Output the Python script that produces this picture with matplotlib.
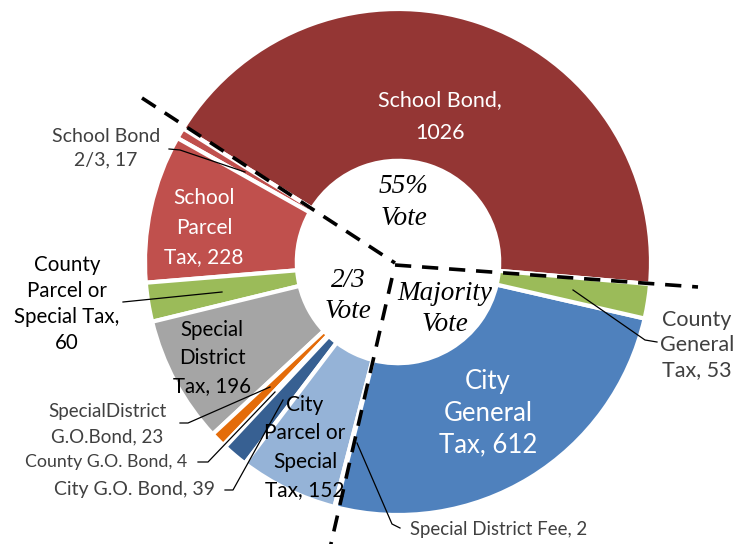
import matplotlib
matplotlib.use("Agg")
import matplotlib.pyplot as plt

# ---- data ----
categories = ["School Bond", "School Bond 2/3", "School Parcel Tax",
              "County Parcel or Special Tax", "Special District Tax",
              "SpecialDistrict G.O.Bond", "County G.O. Bond", "City G.O. Bond",
              "City Parcel or Special Tax", "Special District Fee",
              "City General Tax", "County General Tax"]
values = [1026, 17, 228, 60, 196, 23, 4, 39, 152, 2, 612, 53]
label_templates = ["School Bond,\n{v}", "School Bond\n2/3, {v}", "School\nParcel\nTax, {v}",
                   "County\nParcel or\nSpecial Tax,\n{v}", "Special\nDistrict\nTax, {v}",
                   "SpecialDistrict\nG.O.Bond, {v}", "County G.O. Bond, {v}", "City G.O. Bond, {v}",
                   "City\nParcel or\nSpecial\nTax, {v}", "Special District Fee, {v}",
                   "City\nGeneral\nTax, {v}", "County\nGeneral\nTax, {v}"]
colors = ["#943634", "#C0504D", "#C0504D", "#9BBB59", "#A5A5A5", "#E46C0A",
          "#E46C0A", "#376092", "#95B3D7", "#4F81BD", "#4F81BD", "#9BBB59"]
group_labels = ["55%\nVote", "2/3\nVote", "Majority\nVote"]

W, H = 747, 544
def Y(y):
    return H - y

fig = plt.figure(figsize=(W / 100, H / 100), dpi=100)
ax = fig.add_axes([0, 0, 1, 1])

cx, cy, R = 398, 262, 253
ax.pie(values, startangle=-5, counterclock=True, center=(cx, Y(cy)), radius=R,
       colors=colors,
       wedgeprops=dict(width=R * 0.6, edgecolor="white", linewidth=3))

ax.set_xlim(0, W)
ax.set_ylim(0, H)
ax.set_aspect("equal")
ax.axis("off")


def block(text, x, y, pitch, ha="center", **kw):
    lines = text.split("\n")
    n = len(lines)
    for k, line in enumerate(lines):
        ax.text(x, Y(y + (k - (n - 1) / 2) * pitch), line, ha=ha, va="center", **kw)


labels = [t.format(v=v) for t, v in zip(label_templates, values)]
SANS = "Lato"
GRAY = "#404040"
# (index, x, y, color, size, ha, line pitch in px)
placements = [
    (0, 440, 116.5, "white", 15.5, "center", 33),
    (1, 106, 148, GRAY, 14, "center", 24),
    (2, 204, 228, "white", 15, "center", 29.5),
    (3, 67, 304, "black", 14.8, "center", 26),
    (4, 212, 358, "black", 14.8, "center", 28.5),
    (5, 107, 424.5, GRAY, 13.5, "center", 25),
    (6, 187, 462, GRAY, 12.8, "right", 25),
    (7, 215, 490, GRAY, 14, "right", 25),
    (8, 305, 447.5, "black", 15, "center", 28.3),
    (9, 410, 530, GRAY, 13.4, "left", 25),
    (10, 488, 413.5, "white", 18.5, "center", 31.5),
    (11, 697, 345, GRAY, 15.5, "center", 25),
]
for i, x, y, c, s, ha, pitch in placements:
    block(labels[i], x, y, pitch, ha=ha, color=c, fontsize=s, family=SANS)

# leader lines
leaders = [
    [(169, 149), (180, 150), (245, 172)],
    [(123, 302), (222, 292)],
    [(180, 423), (188, 423), (270, 387)],
    [(198, 462), (208, 462), (275, 392)],
    [(225, 490), (233, 490), (283, 400)],
    [(357, 443), (392, 524), (400, 528)],
    [(573, 290), (645, 340), (657, 342)],
]
for pts in leaders:
    ax.plot([p[0] for p in pts], [Y(p[1]) for p in pts], color="black", lw=0.9)

# dashed group dividers
dash = dict(color="black", lw=2.6, linestyle=(0, (4.5, 3)), solid_capstyle="butt")
ax.plot([142, 395], [Y(98), Y(263)], **dash)
ax.plot([395, 698], [Y(265), Y(287)], **dash)
ax.plot([392, 330], [Y(278), Y(548)], **dash)

# group labels
SERIF = "Liberation Serif"
for txt, x, y in zip(group_labels, [404, 348, 445], [202.5, 296, 309]):
    block(txt, x, y, 31.5, fontsize=19.5, family=SERIF, style="italic")

fig.savefig("out.png", dpi=100)
